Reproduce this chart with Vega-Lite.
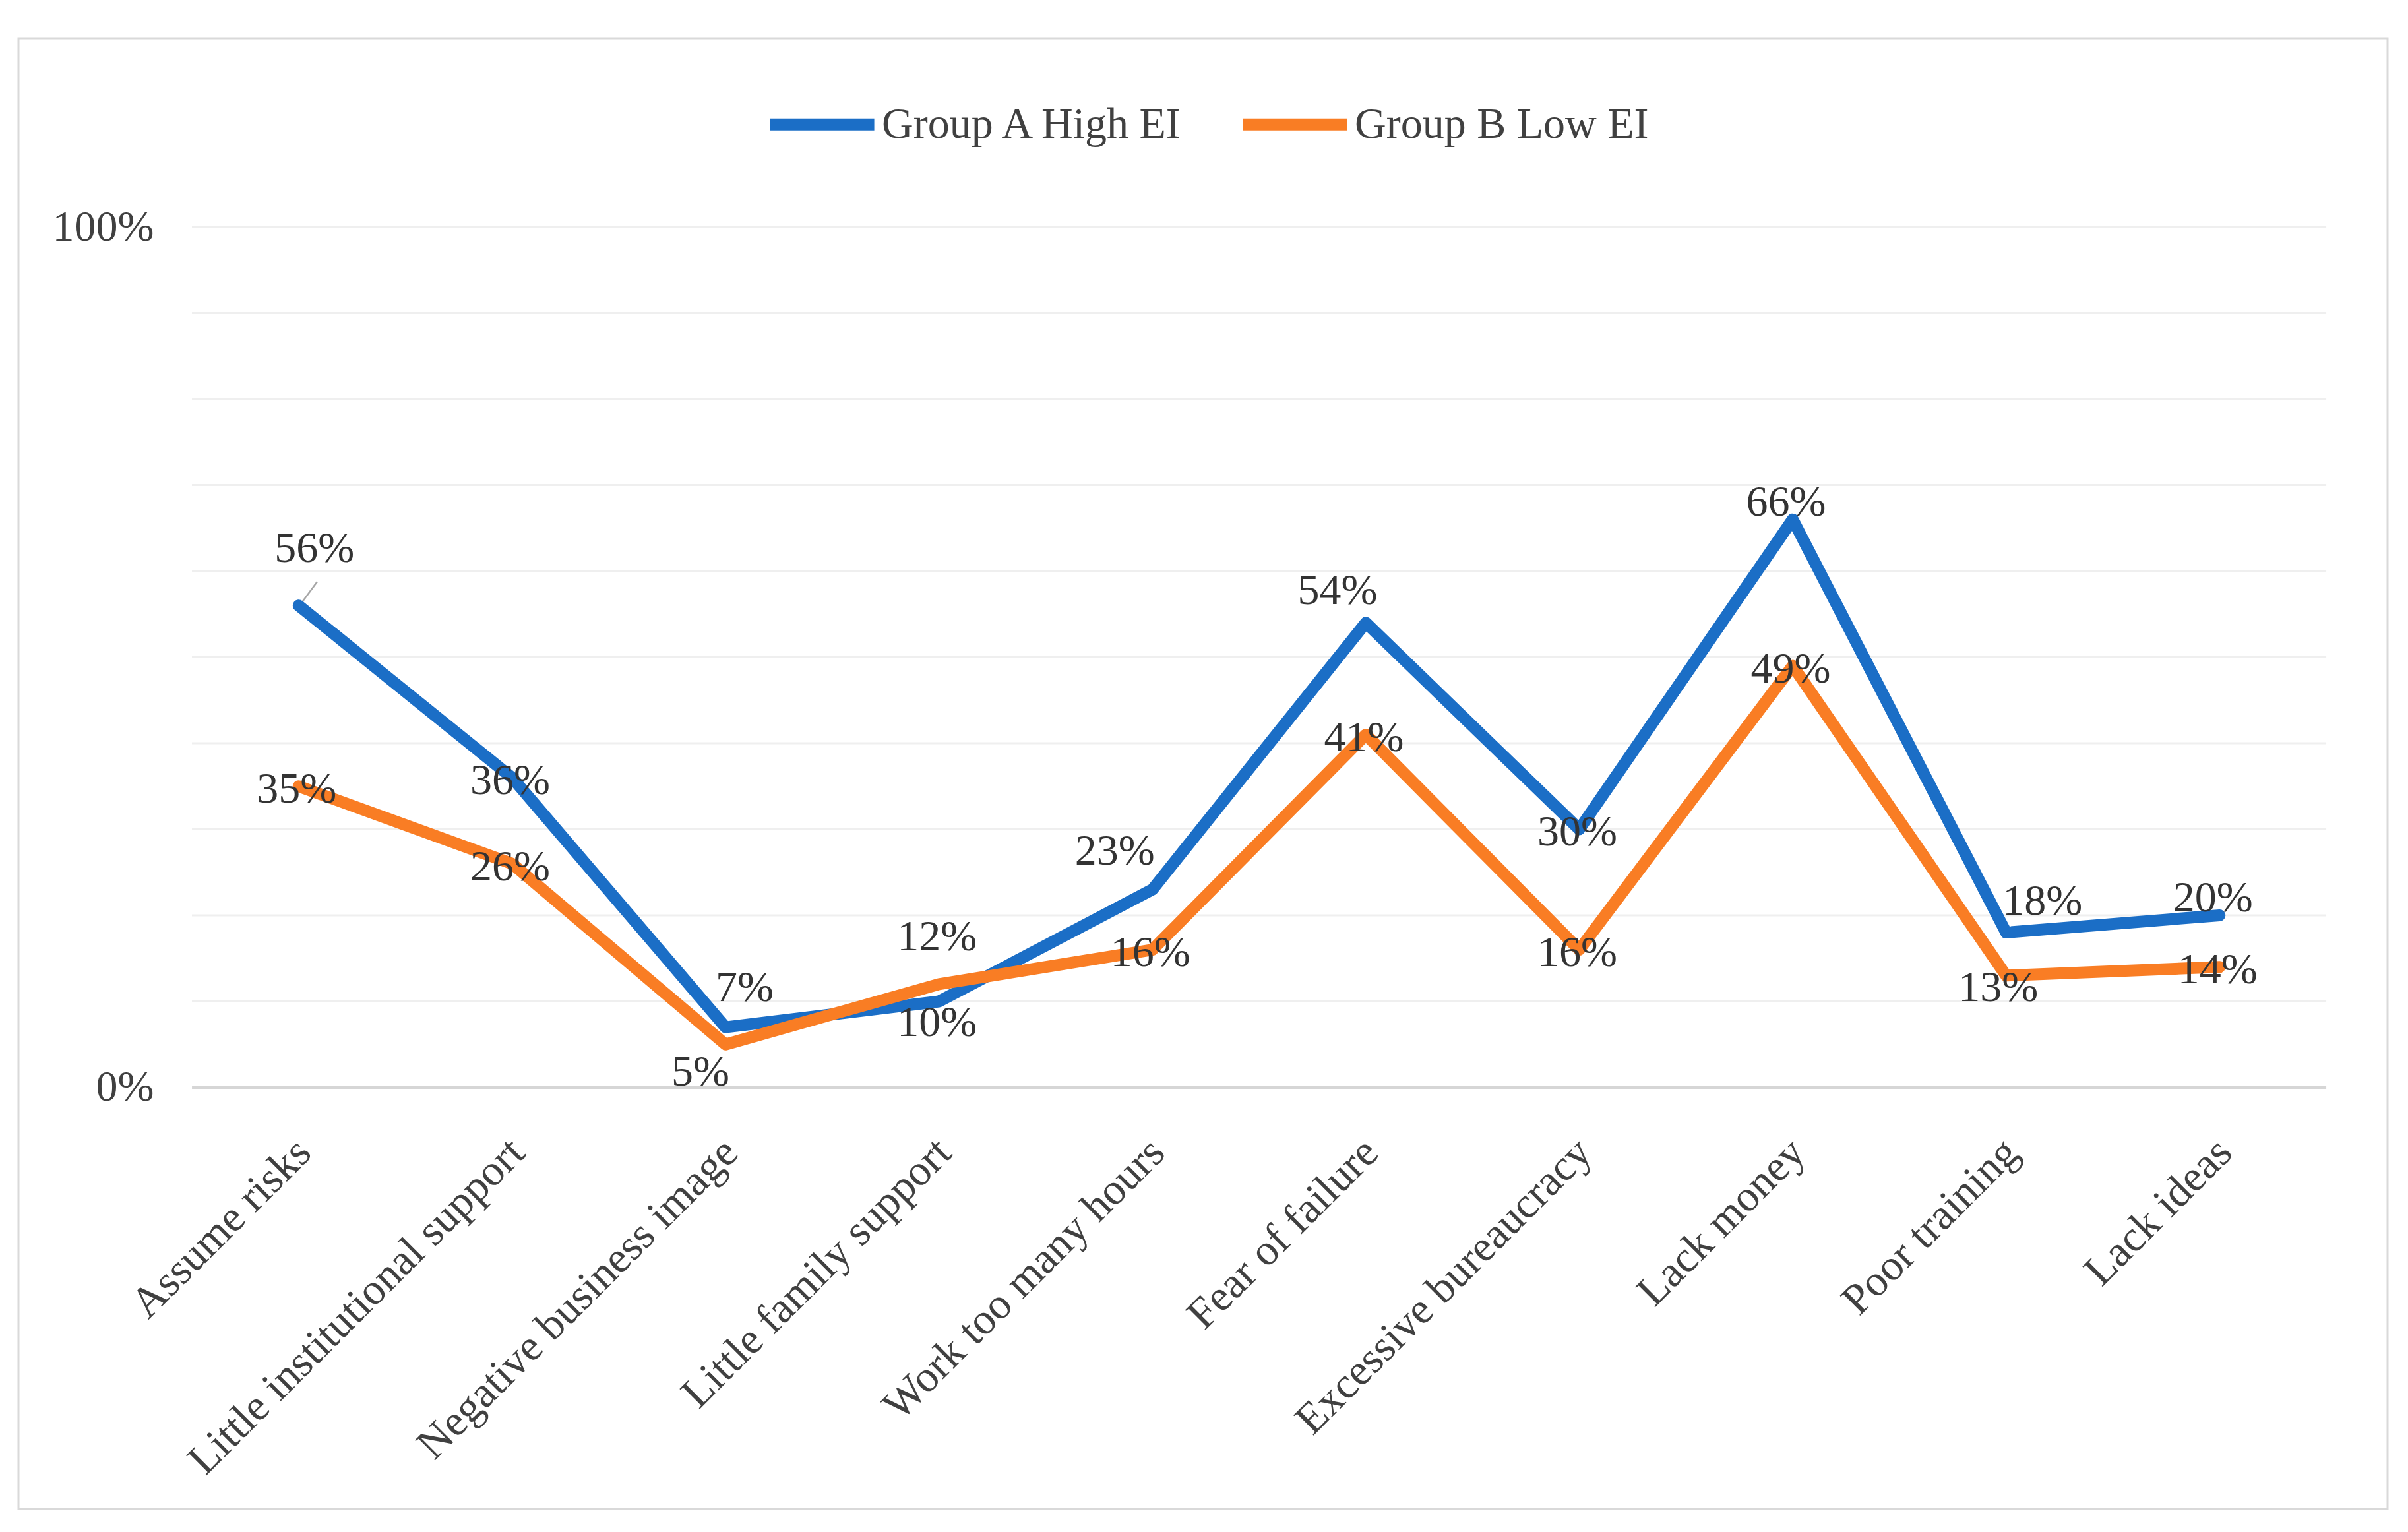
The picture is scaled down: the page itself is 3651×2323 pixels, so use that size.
{
  "$schema": "https://vega.github.io/schema/vega-lite/v6.json",
  "width": 3592,
  "height": 2230,
  "autosize": {"type": "none"},
  "padding": {"left": 28, "top": 58, "right": 31, "bottom": 35},
  "background": "white",
  "data": {
    "values": [
      {"category": "Assume risks", "group": "Group A High EI", "value": 0.56},
      {"category": "Little institutional support", "group": "Group A High EI", "value": 0.36},
      {"category": "Negative business image", "group": "Group A High EI", "value": 0.07},
      {"category": "Little family support", "group": "Group A High EI", "value": 0.10},
      {"category": "Work too many hours", "group": "Group A High EI", "value": 0.23},
      {"category": "Fear of failure", "group": "Group A High EI", "value": 0.54},
      {"category": "Excessive bureaucracy", "group": "Group A High EI", "value": 0.30},
      {"category": "Lack money", "group": "Group A High EI", "value": 0.66},
      {"category": "Poor training", "group": "Group A High EI", "value": 0.18},
      {"category": "Lack ideas", "group": "Group A High EI", "value": 0.20},
      {"category": "Assume risks", "group": "Group B Low EI", "value": 0.35},
      {"category": "Little institutional support", "group": "Group B Low EI", "value": 0.26},
      {"category": "Negative business image", "group": "Group B Low EI", "value": 0.05},
      {"category": "Little family support", "group": "Group B Low EI", "value": 0.12},
      {"category": "Work too many hours", "group": "Group B Low EI", "value": 0.16},
      {"category": "Fear of failure", "group": "Group B Low EI", "value": 0.41},
      {"category": "Excessive bureaucracy", "group": "Group B Low EI", "value": 0.16},
      {"category": "Lack money", "group": "Group B Low EI", "value": 0.49},
      {"category": "Poor training", "group": "Group B Low EI", "value": 0.13},
      {"category": "Lack ideas", "group": "Group B Low EI", "value": 0.14}
    ]
  },
  "encoding": {
    "x": {
      "field": "category",
      "type": "nominal",
      "sort": null,
      "scale": {
        "type": "band",
        "domain": ["Assume risks", "Little institutional support", "Negative business image", "Little family support", "Work too many hours", "Fear of failure", "Excessive bureaucracy", "Lack money", "Poor training", "Lack ideas"],
        "paddingInner": 0,
        "paddingOuter": 0.55,
        "align": 0.739
      },
      "axis": {
        "orient": "bottom",
        "offset": -639,
        "title": null,
        "domain": false,
        "ticks": false,
        "grid": false,
        "labelAngle": -45,
        "labelAlign": "right",
        "labelBaseline": "middle",
        "labelPadding": 88,
        "labelOffset": 8,
        "labelFont": "Liberation Serif",
        "labelFontSize": 66,
        "labelColor": "#404040",
        "labelLimit": 0
      }
    },
    "y": {
      "field": "value",
      "type": "quantitative",
      "scale": {"domain": [-0.4897, 1.2192], "zero": false, "nice": false},
      "axis": {
        "orient": "left",
        "offset": -263,
        "title": null,
        "values": [0, 1],
        "format": ".0%",
        "domain": false,
        "ticks": false,
        "grid": false,
        "labelPadding": 58,
        "labelFont": "Liberation Serif",
        "labelFontSize": 66,
        "labelColor": "#404040"
      }
    }
  },
  "layer": [
    {
      "data": {
        "values": [
          {"v": 0.0, "from": "Assume risks", "to": "Lack ideas"},
          {"v": 0.1, "from": "Assume risks", "to": "Lack ideas"},
          {"v": 0.2, "from": "Assume risks", "to": "Lack ideas"},
          {"v": 0.3, "from": "Assume risks", "to": "Lack ideas"},
          {"v": 0.4, "from": "Assume risks", "to": "Lack ideas"},
          {"v": 0.5, "from": "Assume risks", "to": "Lack ideas"},
          {"v": 0.6, "from": "Assume risks", "to": "Lack ideas"},
          {"v": 0.7, "from": "Assume risks", "to": "Lack ideas"},
          {"v": 0.8, "from": "Assume risks", "to": "Lack ideas"},
          {"v": 0.9, "from": "Assume risks", "to": "Lack ideas"},
          {"v": 1.0, "from": "Assume risks", "to": "Lack ideas"}
        ]
      },
      "mark": {"type": "rule"},
      "encoding": {
        "x": {"field": "from", "type": "nominal", "bandPosition": 0},
        "x2": {"field": "to", "bandPosition": 1},
        "y": {"field": "v", "type": "quantitative"},
        "color": {"condition": {"test": "datum.v === 0", "value": "#d6d6d6"}, "value": "#efefef"},
        "strokeWidth": {"condition": {"test": "datum.v === 0", "value": 4}, "value": 3}
      }
    },
    {
      "transform": [{"filter": "datum.group === 'Group A High EI' && datum.category === 'Assume risks'"}],
      "mark": {"type": "rule", "color": "#a6a6a6", "strokeWidth": 2.5, "xOffset": 5, "yOffset": -5, "x2Offset": 28, "y2Offset": -36},
      "encoding": {
        "x": {"field": "category", "type": "nominal", "bandPosition": 0.5},
        "x2": {"field": "category", "bandPosition": 0.5},
        "y": {"field": "value", "type": "quantitative"},
        "y2": {"field": "value"}
      }
    },
    {
      "mark": {"type": "line", "strokeWidth": 18, "strokeCap": "round", "strokeJoin": "round"},
      "encoding": {
        "color": {
          "field": "group",
          "type": "nominal",
          "scale": {"domain": ["Group A High EI", "Group B Low EI"], "range": ["#1b6ec6", "#f97d24"]},
          "legend": {
            "title": null,
            "orient": "none",
            "direction": "horizontal",
            "legendX": 1130,
            "legendY": 42,
            "symbolType": "stroke",
            "symbolSize": 25000,
            "symbolStrokeWidth": 18,
            "labelFont": "Liberation Serif",
            "labelFontSize": 66,
            "labelColor": "#404040",
            "labelOffset": 2,
            "columnPadding": 50,
            "labelLimit": 0
          }
        }
      }
    },
    {
      "transform": [{"filter": "(datum.group === 'Group A High EI' && indexof(['Little institutional support','Excessive bureaucracy'], datum.category) >= 0) || (datum.group === 'Group B Low EI' && indexof(['Assume risks','Little institutional support','Work too many hours','Fear of failure','Excessive bureaucracy','Lack money','Lack ideas'], datum.category) >= 0)"}],
      "mark": {"type": "text", "font": "Liberation Serif", "fontSize": 66, "color": "#333333", "dx": -3, "dy": 5},
      "encoding": {"text": {"field": "value", "type": "quantitative", "format": ".0%"}}
    },
    {
      "transform": [{"filter": "datum.group === 'Group B Low EI' && datum.category === 'Poor training'"}],
      "mark": {"type": "text", "font": "Liberation Serif", "fontSize": 66, "color": "#333333", "dx": -12, "dy": 19},
      "encoding": {"text": {"field": "value", "type": "quantitative", "format": ".0%"}}
    },
    {
      "transform": [{"filter": "datum.group === 'Group A High EI' && indexof(['Lack money','Lack ideas'], datum.category) >= 0"}],
      "mark": {"type": "text", "font": "Liberation Serif", "fontSize": 66, "color": "#333333", "dx": -10, "dy": -26},
      "encoding": {"text": {"field": "value", "type": "quantitative", "format": ".0%"}}
    },
    {
      "transform": [{"filter": "datum.group === 'Group A High EI' && datum.category === 'Assume risks'"}],
      "mark": {"type": "text", "font": "Liberation Serif", "fontSize": 66, "color": "#333333", "dx": 24, "dy": -86},
      "encoding": {"text": {"field": "value", "type": "quantitative", "format": ".0%"}}
    },
    {
      "transform": [{"filter": "datum.group === 'Group A High EI' && datum.category === 'Negative business image'"}],
      "mark": {"type": "text", "font": "Liberation Serif", "fontSize": 66, "color": "#333333", "dx": 29, "dy": -60},
      "encoding": {"text": {"field": "value", "type": "quantitative", "format": ".0%"}}
    },
    {
      "transform": [{"filter": "datum.group === 'Group A High EI' && datum.category === 'Little family support'"}],
      "mark": {"type": "text", "font": "Liberation Serif", "fontSize": 66, "color": "#333333", "dx": -3, "dy": 33},
      "encoding": {"text": {"field": "value", "type": "quantitative", "format": ".0%"}}
    },
    {
      "transform": [{"filter": "datum.group === 'Group A High EI' && datum.category === 'Work too many hours'"}],
      "mark": {"type": "text", "font": "Liberation Serif", "fontSize": 66, "color": "#333333", "dx": -57, "dy": -58},
      "encoding": {"text": {"field": "value", "type": "quantitative", "format": ".0%"}}
    },
    {
      "transform": [{"filter": "datum.group === 'Group A High EI' && datum.category === 'Fear of failure'"}],
      "mark": {"type": "text", "font": "Liberation Serif", "fontSize": 66, "color": "#333333", "dx": -43, "dy": -48},
      "encoding": {"text": {"field": "value", "type": "quantitative", "format": ".0%"}}
    },
    {
      "transform": [{"filter": "datum.group === 'Group A High EI' && datum.category === 'Poor training'"}],
      "mark": {"type": "text", "font": "Liberation Serif", "fontSize": 66, "color": "#333333", "dx": 55, "dy": -47},
      "encoding": {"text": {"field": "value", "type": "quantitative", "format": ".0%"}}
    },
    {
      "transform": [{"filter": "datum.group === 'Group B Low EI' && datum.category === 'Negative business image'"}],
      "mark": {"type": "text", "font": "Liberation Serif", "fontSize": 66, "color": "#333333", "dx": -38, "dy": 42},
      "encoding": {"text": {"field": "value", "type": "quantitative", "format": ".0%"}}
    },
    {
      "transform": [{"filter": "datum.group === 'Group B Low EI' && datum.category === 'Little family support'"}],
      "mark": {"type": "text", "font": "Liberation Serif", "fontSize": 66, "color": "#333333", "dx": -3, "dy": -71},
      "encoding": {"text": {"field": "value", "type": "quantitative", "format": ".0%"}}
    }
  ],
  "config": {
    "view": {"stroke": "#d9d9d9", "strokeWidth": 3},
    "font": "Liberation Serif"
  }
}
